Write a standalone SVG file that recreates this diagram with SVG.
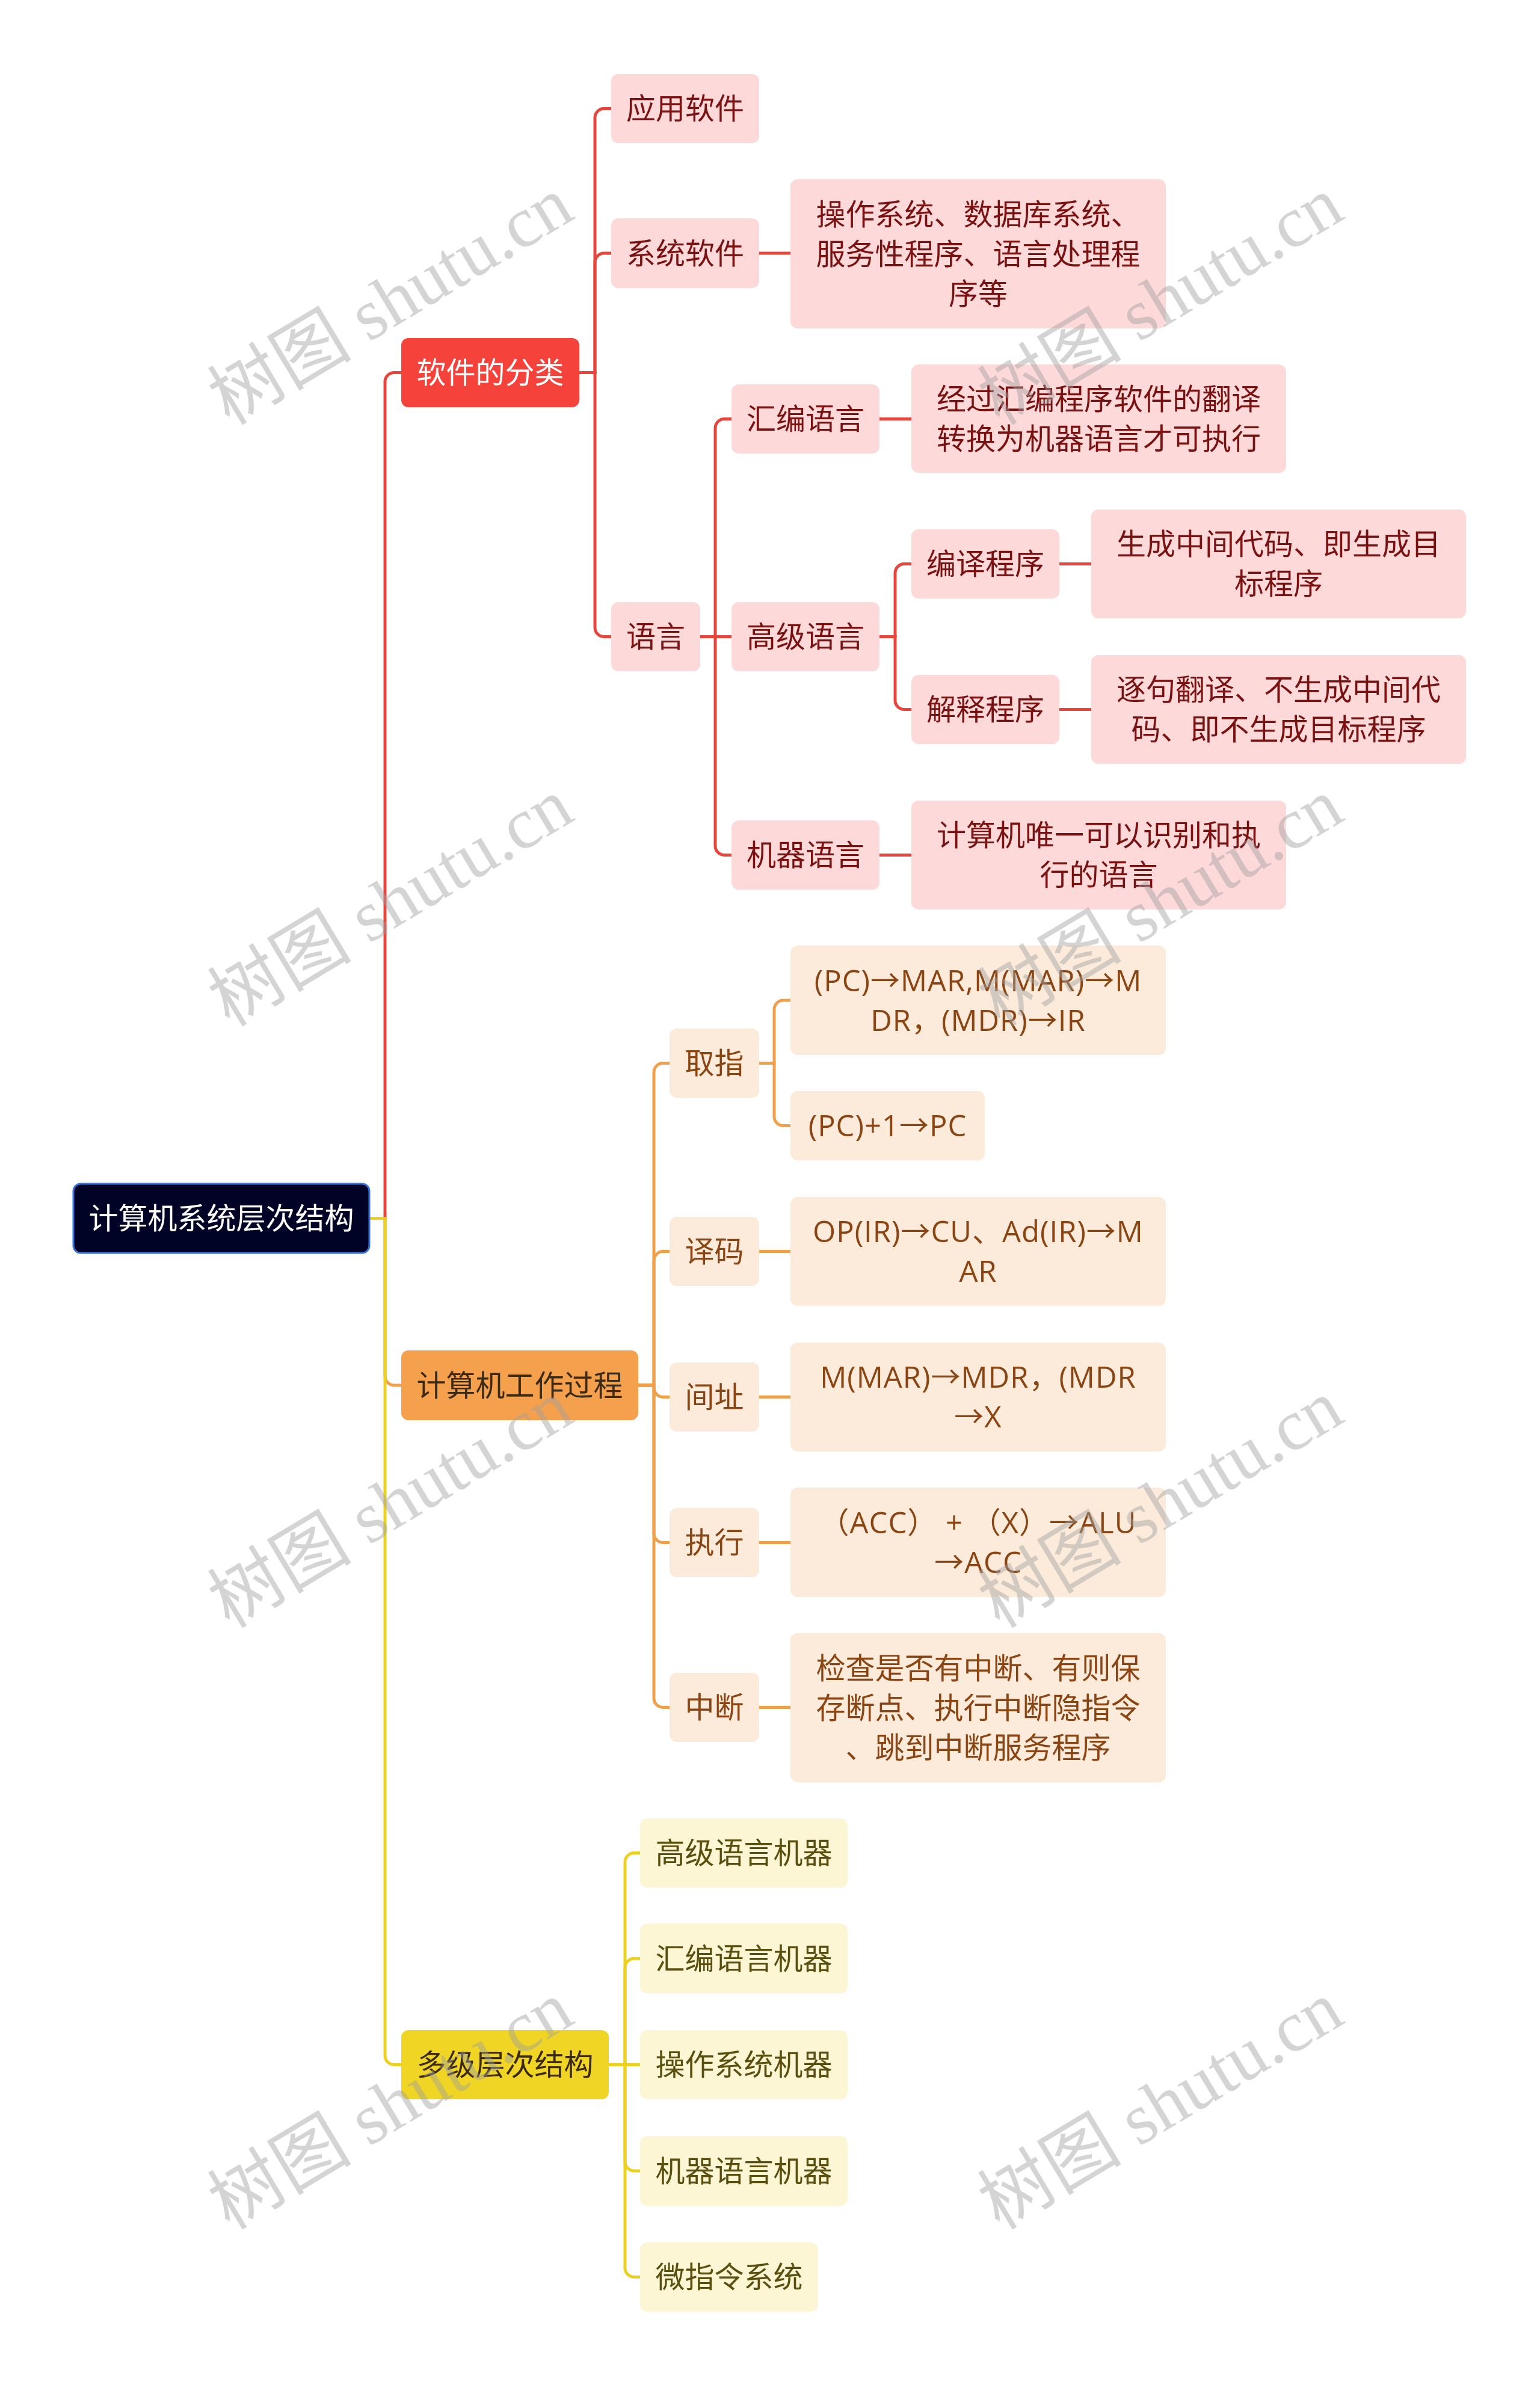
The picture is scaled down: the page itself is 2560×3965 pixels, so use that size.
<svg xmlns="http://www.w3.org/2000/svg" width="2560" height="3965" viewBox="0 0 2560 3965">
<style>
text{font-family:"Noto Sans CJK SC","Noto Sans",sans-serif;font-size:49px;text-anchor:middle}
text.lat{font-family:"Open Sans","Noto Sans CJK SC",sans-serif;letter-spacing:1px}
.root{fill:#000326;stroke:#3a74db;stroke-width:3}
.l1r{fill:#f5433b}.l1o{fill:#f4a04d}.l1y{fill:#f1d524}
.nr{fill:#fdd9d9}.no{fill:#fcebdb}.ny{fill:#fcf6d5}
.tw{fill:#ffffff}.tr{fill:#7b1212}.to{fill:#8b4513}.ty{fill:#5a4f0e}.td{fill:#3b2a14}
.cr{fill:none;stroke:#e8453c;stroke-width:5}
.co{fill:none;stroke:#f0a04b;stroke-width:5}
.cy{fill:none;stroke:#ecd022;stroke-width:5}
.wm{font-family:"Liberation Serif","Noto Sans CJK SC",serif;font-size:120px;fill:#a0a0a0;fill-opacity:0.45}
</style>
<g id="connectors">
<path class="cr" d="M614,2025.5 H640 V634.5 A15,15 0 0 1 655,619.5 H667"/>
<path class="cr" d="M963,619.5 H989 V195.5 A15,15 0 0 1 1004,180.5 H1016"/>
<path class="cr" d="M963,619.5 H989 V436 A15,15 0 0 1 1004,421 H1016"/>
<path class="cr" d="M963,619.5 H989 V1043.5 A15,15 0 0 0 1004,1058.5 H1016"/>
<path class="cr" d="M1262,421 H1314"/>
<path class="cr" d="M1164,1058.5 H1189 V711.5 A15,15 0 0 1 1204,696.5 H1216"/>
<path class="cr" d="M1164,1058.5 H1216"/>
<path class="cr" d="M1164,1058.5 H1189 V1406.5 A15,15 0 0 0 1204,1421.5 H1216"/>
<path class="cr" d="M1462,696.5 H1515"/>
<path class="cr" d="M1462,1058.5 H1488 V952.5 A15,15 0 0 1 1503,937.5 H1515"/>
<path class="cr" d="M1462,1058.5 H1488 V1164.5 A15,15 0 0 0 1503,1179.5 H1515"/>
<path class="cr" d="M1761,937.5 H1814"/>
<path class="cr" d="M1761,1179.5 H1814"/>
<path class="cr" d="M1462,1421.5 H1515"/>
<path class="co" d="M614,2025.5 H640 V2288 A15,15 0 0 0 655,2303 H667"/>
<path class="co" d="M1061,2303 H1087 V1782.5 A15,15 0 0 1 1102,1767.5 H1113"/>
<path class="co" d="M1061,2303 H1087 V2095.5 A15,15 0 0 1 1102,2080.5 H1113"/>
<path class="co" d="M1061,2303 H1087 V2307.5 A15,15 0 0 0 1102,2322.5 H1113"/>
<path class="co" d="M1061,2303 H1087 V2549.5 A15,15 0 0 0 1102,2564.5 H1113"/>
<path class="co" d="M1061,2303 H1087 V2823.5 A15,15 0 0 0 1102,2838.5 H1113"/>
<path class="co" d="M1262,1767.5 H1287 V1678 A15,15 0 0 1 1302,1663 H1314"/>
<path class="co" d="M1262,1767.5 H1287 V1856.5 A15,15 0 0 0 1302,1871.5 H1314"/>
<path class="co" d="M1262,2080.5 H1314"/>
<path class="co" d="M1262,2322.5 H1314"/>
<path class="co" d="M1262,2564.5 H1314"/>
<path class="co" d="M1262,2838.5 H1314"/>
<path class="cy" d="M614,2025.5 H640 V3417.5 A15,15 0 0 0 655,3432.5 H667"/>
<path class="cy" d="M1012,3432.5 H1039 V3095.5 A15,15 0 0 1 1054,3080.5 H1064"/>
<path class="cy" d="M1012,3432.5 H1039 V3271 A15,15 0 0 1 1054,3256 H1064"/>
<path class="cy" d="M1012,3432.5 H1064"/>
<path class="cy" d="M1012,3432.5 H1039 V3594 A15,15 0 0 0 1054,3609 H1064"/>
<path class="cy" d="M1012,3432.5 H1039 V3770.5 A15,15 0 0 0 1054,3785.5 H1064"/>
</g>
<g id="n-root"><rect class="root" x="122" y="1968" width="492" height="115" rx="12"/><text class="tw" x="368" y="2043">计算机系统层次结构</text></g>
<g id="n-software"><rect class="l1r" x="667" y="562" width="296" height="115" rx="12"/><text class="tw" x="815" y="637">软件的分类</text></g>
<g id="n-app"><rect class="nr" x="1016" y="123" width="246" height="115" rx="12"/><text class="tr" x="1139" y="198">应用软件</text></g>
<g id="n-sys"><rect class="nr" x="1016" y="363" width="246" height="116" rx="12"/><text class="tr" x="1139" y="439">系统软件</text></g>
<g id="n-sys-d"><rect class="nr" x="1314" y="298" width="624" height="248" rx="12"/><text class="tr" x="1626" y="374">操作系统、数据库系统、</text><text class="tr" x="1626" y="440">服务性程序、语言处理程</text><text class="tr" x="1626" y="506">序等</text></g>
<g id="n-lang"><rect class="nr" x="1016" y="1001" width="148" height="115" rx="12"/><text class="tr" x="1090" y="1076">语言</text></g>
<g id="n-asm"><rect class="nr" x="1216" y="639" width="246" height="115" rx="12"/><text class="tr" x="1339" y="714">汇编语言</text></g>
<g id="n-asm-d"><rect class="nr" x="1515" y="606" width="623" height="180" rx="12"/><text class="tr" x="1826.5" y="681">经过汇编程序软件的翻译</text><text class="tr" x="1826.5" y="747">转换为机器语言才可执行</text></g>
<g id="n-high"><rect class="nr" x="1216" y="1001" width="246" height="115" rx="12"/><text class="tr" x="1339" y="1076">高级语言</text></g>
<g id="n-compile"><rect class="nr" x="1515" y="880" width="246" height="115" rx="12"/><text class="tr" x="1638" y="955">编译程序</text></g>
<g id="n-compile-d"><rect class="nr" x="1814" y="847" width="623" height="181" rx="12"/><text class="tr" x="2125.5" y="922">生成中间代码、即生成目</text><text class="tr" x="2125.5" y="988">标程序</text></g>
<g id="n-interp"><rect class="nr" x="1515" y="1122" width="246" height="115" rx="12"/><text class="tr" x="1638" y="1197">解释程序</text></g>
<g id="n-interp-d"><rect class="nr" x="1814" y="1089" width="623" height="181" rx="12"/><text class="tr" x="2125.5" y="1164">逐句翻译、不生成中间代</text><text class="tr" x="2125.5" y="1230">码、即不生成目标程序</text></g>
<g id="n-mach"><rect class="nr" x="1216" y="1364" width="246" height="115" rx="12"/><text class="tr" x="1339" y="1439">机器语言</text></g>
<g id="n-mach-d"><rect class="nr" x="1515" y="1331" width="623" height="181" rx="12"/><text class="tr" x="1826.5" y="1406">计算机唯一可以识别和执</text><text class="tr" x="1826.5" y="1472">行的语言</text></g>
<g id="n-work"><rect class="l1o" x="667" y="2245" width="394" height="116" rx="12"/><text class="td" x="864" y="2321">计算机工作过程</text></g>
<g id="n-fetch"><rect class="no" x="1113" y="1710" width="149" height="115" rx="12"/><text class="to" x="1187.5" y="1785">取指</text></g>
<g id="n-fetch-1"><rect class="no" x="1314" y="1572" width="624" height="182" rx="12"/><text class="to lat" x="1626" y="1648">(PC)→MAR,M(MAR)→M</text><text class="to lat" x="1626" y="1714">DR，(MDR)→IR</text></g>
<g id="n-fetch-2"><rect class="no" x="1314" y="1814" width="323" height="115" rx="12"/><text class="to lat" x="1475.5" y="1889">(PC)+1→PC</text></g>
<g id="n-decode"><rect class="no" x="1113" y="2023" width="149" height="115" rx="12"/><text class="to" x="1187.5" y="2098">译码</text></g>
<g id="n-decode-d"><rect class="no" x="1314" y="1990" width="624" height="181" rx="12"/><text class="to lat" x="1626" y="2065">OP(IR)→CU、Ad(IR)→M</text><text class="to lat" x="1626" y="2131">AR</text></g>
<g id="n-indirect"><rect class="no" x="1113" y="2265" width="149" height="115" rx="12"/><text class="to" x="1187.5" y="2340">间址</text></g>
<g id="n-indirect-d"><rect class="no" x="1314" y="2232" width="624" height="181" rx="12"/><text class="to lat" x="1626" y="2307">M(MAR)→MDR，(MDR</text><text class="to lat" x="1626" y="2373">→X</text></g>
<g id="n-exec"><rect class="no" x="1113" y="2507" width="149" height="115" rx="12"/><text class="to" x="1187.5" y="2582">执行</text></g>
<g id="n-exec-d"><rect class="no" x="1314" y="2473" width="624" height="182" rx="12"/><text class="to lat" x="1626" y="2549">（ACC） + （X）→ALU</text><text class="to lat" x="1626" y="2615">→ACC</text></g>
<g id="n-int"><rect class="no" x="1113" y="2781" width="149" height="115" rx="12"/><text class="to" x="1187.5" y="2856">中断</text></g>
<g id="n-int-d"><rect class="no" x="1314" y="2715" width="624" height="248" rx="12"/><text class="to" x="1626" y="2791">检查是否有中断、有则保</text><text class="to" x="1626" y="2857">存断点、执行中断隐指令</text><text class="to" x="1626" y="2923">、跳到中断服务程序</text></g>
<g id="n-multi"><rect class="l1y" x="667" y="3375" width="345" height="115" rx="12"/><text class="td" x="839.5" y="3450">多级层次结构</text></g>
<g id="n-m1"><rect class="ny" x="1064" y="3023" width="345" height="115" rx="12"/><text class="ty" x="1236.5" y="3098">高级语言机器</text></g>
<g id="n-m2"><rect class="ny" x="1064" y="3198" width="345" height="116" rx="12"/><text class="ty" x="1236.5" y="3274">汇编语言机器</text></g>
<g id="n-m3"><rect class="ny" x="1064" y="3375" width="345" height="115" rx="12"/><text class="ty" x="1236.5" y="3450">操作系统机器</text></g>
<g id="n-m4"><rect class="ny" x="1064" y="3551" width="345" height="116" rx="12"/><text class="ty" x="1236.5" y="3627">机器语言机器</text></g>
<g id="n-m5"><rect class="ny" x="1064" y="3728" width="296" height="115" rx="12"/><text class="ty" x="1212" y="3803">微指令系统</text></g>
<g id="watermarks">
<text class="wm" transform="translate(670,535) rotate(-31)">树图 shutu.cn</text>
<text class="wm" transform="translate(670,1535) rotate(-31)">树图 shutu.cn</text>
<text class="wm" transform="translate(670,2535) rotate(-31)">树图 shutu.cn</text>
<text class="wm" transform="translate(670,3535) rotate(-31)">树图 shutu.cn</text>
<text class="wm" transform="translate(1950,535) rotate(-31)">树图 shutu.cn</text>
<text class="wm" transform="translate(1950,1535) rotate(-31)">树图 shutu.cn</text>
<text class="wm" transform="translate(1950,2535) rotate(-31)">树图 shutu.cn</text>
<text class="wm" transform="translate(1950,3535) rotate(-31)">树图 shutu.cn</text>
</g>
</svg>
